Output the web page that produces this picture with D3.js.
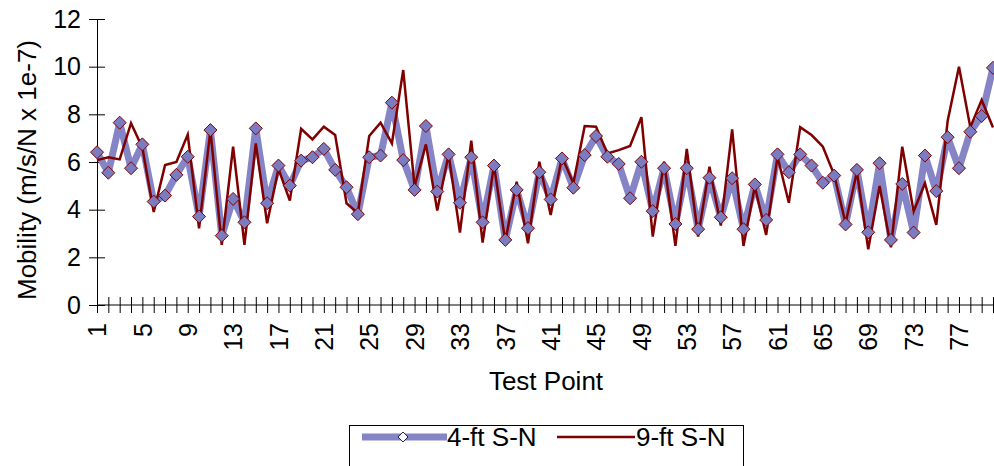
<!DOCTYPE html>
<html>
<head>
<meta charset="utf-8">
<script src="https://cdn.jsdelivr.net/npm/d3@7"></script>
<style>
  body { margin: 0; background: #fff; }
  text { font-family: "Liberation Sans", Arial, sans-serif; fill: #000; }
</style>
</head>
<body>
<div id="chart"></div>
<script>
// test points 1..80
var testPoints = d3.range(1, 81);

// 4-ft S-N (line with diamond markers)
var fourFt = [6.41, 5.55, 7.65, 5.74, 6.74, 4.34, 4.59, 5.46, 6.22, 3.71,
  7.34, 2.91, 4.45, 3.47, 7.41, 4.27, 5.85, 5.01, 6.06, 6.20,
  6.55, 5.67, 4.94, 3.81, 6.20, 6.27, 8.49, 6.08, 4.83, 7.51,
  4.76, 6.32, 4.29, 6.20, 3.47, 5.85, 2.73, 4.83, 3.22, 5.57,
  4.43, 6.15, 4.92, 6.29, 7.09, 6.22, 5.92, 4.48, 6.01, 3.94,
  5.74, 3.40, 5.74, 3.18, 5.34, 3.68, 5.32, 3.18, 5.06, 3.57,
  6.32, 5.57, 6.32, 5.85, 5.13, 5.43, 3.38, 5.67, 3.05, 5.95,
  2.73, 5.08, 3.04, 6.27, 4.78, 7.04, 5.74, 7.27, 7.93, 9.95];

// 9-ft S-N (plain line)
var nineFt = [6.08, 6.20, 6.11, 7.63, 6.60, 3.90, 5.87, 6.00, 7.15, 3.22,
  7.34, 2.52, 6.64, 2.52, 6.78, 3.43, 5.71, 4.38, 7.39, 6.95,
  7.48, 7.13, 4.27, 3.85, 7.09, 7.65, 6.78, 9.86, 4.97, 6.74,
  3.96, 6.32, 3.04, 6.90, 2.62, 5.87, 2.66, 5.17, 2.59, 6.01,
  3.78, 6.22, 5.11, 7.51, 7.48, 6.36, 6.50, 6.67, 7.88, 2.87,
  6.01, 2.48, 6.55, 2.87, 5.80, 3.33, 7.37, 2.48, 4.97, 2.94,
  6.22, 4.29, 7.46, 7.13, 6.64, 5.46, 3.43, 5.59, 2.34, 4.99,
  2.42, 6.64, 3.92, 5.11, 3.36, 7.72, 10.0, 7.46, 8.60, 7.45];

var yTicks = [0, 2, 4, 6, 8, 10, 12];
var xLabelTicks = d3.range(1, 81, 4); // 1, 5, 9 ... 77
var seriesNames = ["4-ft S-N", "9-ft S-N"];

var W = 994, H = 466;
var blueLine = "#8484c6", blueFill = "#7b7bbf", red = "#800000";

var svg = d3.select("#chart").append("svg")
  .attr("width", W)
  .attr("height", H);

var x = d3.scaleLinear().domain([1, 80]).range([97, 993]);
var y = d3.scaleLinear().domain([0, 12]).range([305, 19]);

// y axis, cross tick marks
var yAxis = svg.append("g")
  .attr("transform", "translate(97,0)")
  .call(d3.axisLeft(y).tickValues(yTicks).tickSizeOuter(0).tickSize(8));
yAxis.select(".domain").attr("stroke", "#000");
yAxis.selectAll(".tick line").attr("x1", 8).attr("x2", -8).attr("stroke", "#000");
yAxis.selectAll(".tick text")
  .attr("x", -16)
  .style("font-size", "25px")
  .style("font-family", "Liberation Sans, Arial, sans-serif");

// x axis
var xAxis = svg.append("g")
  .attr("transform", "translate(0,305)")
  .call(d3.axisBottom(x).tickValues(testPoints).tickSizeOuter(0).tickSize(8)
    .tickFormat(function (d) { return xLabelTicks.indexOf(d) >= 0 ? d : ""; }));
xAxis.select(".domain").attr("stroke", "#000").attr("d", "M97,0H994");
xAxis.selectAll(".tick line").attr("y1", -8).attr("y2", 8).attr("stroke", "#000");
xAxis.selectAll(".tick text")
  .attr("transform", "rotate(-90)")
  .attr("x", -18)
  .attr("y", 0)
  .attr("dy", "0.35em")
  .style("text-anchor", "end")
  .style("font-size", "25px")
  .style("font-family", "Liberation Sans, Arial, sans-serif");

// axis titles
svg.append("text")
  .attr("transform", "translate(36,170) rotate(-90)")
  .attr("text-anchor", "middle")
  .style("font-size", "26px")
  .text("Mobility (m/s/N x 1e-7)");

svg.append("text")
  .attr("x", 546)
  .attr("y", 390)
  .attr("text-anchor", "middle")
  .style("font-size", "26px")
  .text("Test Point");

// lines
var line = d3.line()
  .x(function (d, i) { return x(testPoints[i]); })
  .y(function (d) { return y(d); });

svg.append("path")
  .datum(fourFt)
  .attr("fill", "none")
  .attr("stroke", blueLine)
  .attr("stroke-width", 7)
  .attr("stroke-linejoin", "round")
  .attr("d", line);

svg.append("path")
  .datum(nineFt)
  .attr("fill", "none")
  .attr("stroke", red)
  .attr("stroke-width", 2.5)
  .attr("stroke-linejoin", "miter")
  .attr("d", line);

// diamond markers
var diamond = "M0,-6.5L6.5,0L0,6.5L-6.5,0Z";
svg.selectAll(".marker")
  .data(fourFt)
  .enter()
  .append("path")
  .attr("class", "marker")
  .attr("transform", function (d, i) { return "translate(" + x(testPoints[i]) + "," + y(d) + ")"; })
  .attr("d", diamond)
  .attr("fill", blueFill)
  .attr("stroke", red)
  .attr("stroke-width", 1);

// legend
var lg = svg.append("g");
lg.append("rect")
  .attr("x", 349.5).attr("y", 425.5)
  .attr("width", 394).attr("height", 50)
  .attr("fill", "#fff")
  .attr("stroke", "#000");
lg.append("line")
  .attr("x1", 362).attr("x2", 447).attr("y1", 437).attr("y2", 437)
  .attr("stroke", blueLine).attr("stroke-width", 7);
lg.append("path")
  .attr("transform", "translate(403,437)")
  .attr("d", "M0,-5L5,0L0,5L-5,0Z")
  .attr("fill", "#fff")
  .attr("stroke", "#222255")
  .attr("stroke-width", 1);
lg.append("text")
  .attr("x", 447).attr("y", 446)
  .style("font-size", "26px")
  .text(seriesNames[0]);
lg.append("line")
  .attr("x1", 557).attr("x2", 635).attr("y1", 437).attr("y2", 437)
  .attr("stroke", red).attr("stroke-width", 2.5);
lg.append("text")
  .attr("x", 636).attr("y", 446)
  .style("font-size", "26px")
  .text(seriesNames[1]);
</script>
</body>
</html>
